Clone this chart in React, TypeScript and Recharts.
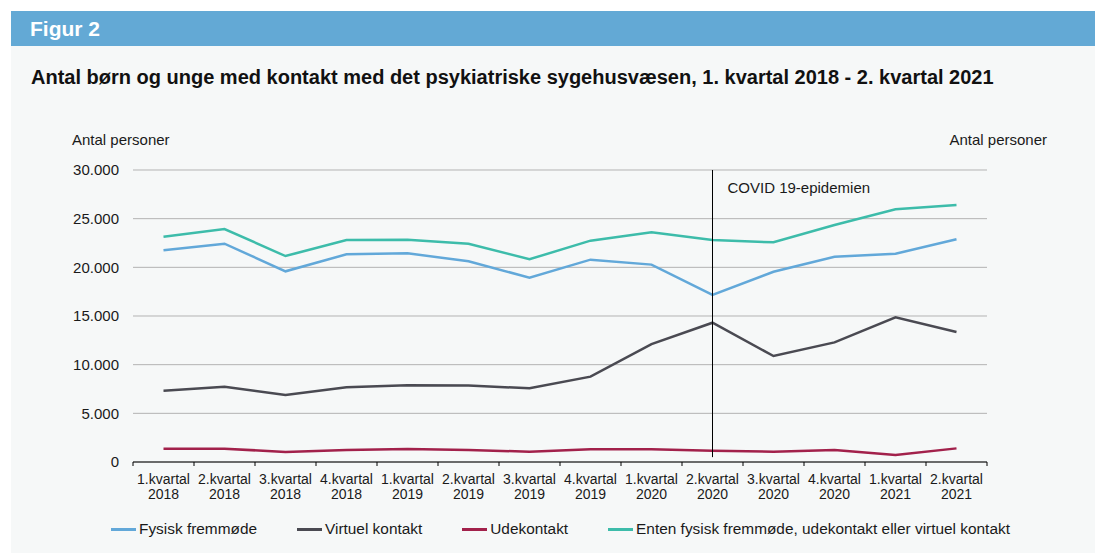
import { LineChart, Line, XAxis, YAxis, CartesianGrid, ReferenceLine } from "recharts";

const QUARTERS = [
  "1.kvartal 2018", "2.kvartal 2018", "3.kvartal 2018", "4.kvartal 2018",
  "1.kvartal 2019", "2.kvartal 2019", "3.kvartal 2019", "4.kvartal 2019",
  "1.kvartal 2020", "2.kvartal 2020", "3.kvartal 2020", "4.kvartal 2020",
  "1.kvartal 2021", "2.kvartal 2021",
];
const FYSISK = [21750, 22430, 19590, 21340, 21440, 20620, 18940, 20790, 20280, 17160, 19550, 21090, 21400, 22880];
const VIRTUEL = [7330, 7740, 6880, 7670, 7880, 7850, 7570, 8770, 12120, 14310, 10890, 12290, 14870, 13360];
const UDE = [1370, 1370, 1030, 1230, 1340, 1230, 1060, 1300, 1300, 1160, 1060, 1230, 720, 1400];
const ENTEN = [23150, 23940, 21160, 22810, 22840, 22430, 20830, 22740, 23600, 22810, 22570, 24350, 25960, 26400];
const Y_TICKS = [0, 5000, 10000, 15000, 20000, 25000, 30000];

const SERIES = [
  { key: "fysisk", name: "Fysisk fremmøde", color: "#62a8d9" },
  { key: "virtuel", name: "Virtuel kontakt", color: "#4a4a52" },
  { key: "ude", name: "Udekontakt", color: "#a2214b" },
  { key: "enten", name: "Enten fysisk fremmøde, udekontakt eller virtuel kontakt", color: "#3dbcaa" },
];

const data = QUARTERS.map((q, i) => ({ q, fysisk: FYSISK[i], virtuel: VIRTUEL[i], ude: UDE[i], enten: ENTEN[i] }));

const FONT = '"Liberation Sans", Arial, Helvetica, sans-serif';
const HALF = 30.5; // half band width, for tick marks between categories
const dk = (n: number) => String(n).replace(/\B(?=(\d{3})+(?!\d))/g, ".");

function QuarterTick({ x, y, payload, index }: any) {
  const [q, yr] = String(payload.value).split(" ");
  return (
    <g>
      <line x1={x - HALF} x2={x - HALF} y1={y} y2={y + 4} stroke="#000" />
      {index === QUARTERS.length - 1 && <line x1={x + HALF} x2={x + HALF} y1={y} y2={y + 4} stroke="#000" />}
      <text x={x} y={y + 22} textAnchor="middle" fontSize={14} fill="#1a1a1a" fontFamily={FONT}>{q}</text>
      <text x={x} y={y + 37} textAnchor="middle" fontSize={14} fill="#1a1a1a" fontFamily={FONT}>{yr}</text>
    </g>
  );
}

function CovidLabel({ viewBox }: any) {
  return (
    <text x={viewBox.x + 15} y={viewBox.y + 23} fontSize={15} fill="#1a1a1a" fontFamily={FONT}>
      COVID 19-epidemien
    </text>
  );
}

export default function App() {
  return (
    <div style={{ position: "absolute", left: 0, top: 0, width: 1095, height: 553, background: "#fff", fontFamily: FONT }}>
      <div style={{ position: "absolute", left: 11, top: 11, width: 1084, height: 35, background: "#63a9d5", color: "#fff", fontWeight: 700, fontSize: 21, lineHeight: "35px", paddingLeft: 19, boxSizing: "border-box" }}>
        Figur 2
      </div>
      <div style={{ position: "absolute", left: 11, top: 46, width: 1084, height: 507, background: "#f6f8f8" }} />
      <div style={{ position: "absolute", left: 31, top: 66, fontWeight: 700, fontSize: 20, color: "#111", whiteSpace: "nowrap" }}>
        Antal børn og unge med kontakt med det psykiatriske sygehusvæsen, 1. kvartal 2018 - 2. kvartal 2021
      </div>
      <div style={{ position: "absolute", left: 72, top: 131, fontSize: 15, color: "#1a1a1a" }}>Antal personer</div>
      <div style={{ position: "absolute", right: 48, top: 131, fontSize: 15, color: "#1a1a1a" }}>Antal personer</div>

      <div style={{ position: "absolute", left: 0, top: 0 }}>
        <LineChart width={1095} height={553} data={data} margin={{ top: 170, right: 48, bottom: 51, left: 0 }}>
          <CartesianGrid vertical={false} stroke="#b3b3b3" yAxisId="left" />
          <XAxis dataKey="q" scale="band" axisLine={{ stroke: "#000" }} tickLine={false} tickSize={0} tickMargin={0} height={40} interval={0} tick={<QuarterTick />} />
          <YAxis yAxisId="left" domain={[0, 30000]} ticks={Y_TICKS} tickFormatter={dk} width={133} axisLine={false} tickLine={false} tickSize={6} tickMargin={8} tick={{ fontSize: 15, fill: "#1a1a1a", fontFamily: FONT }} />
          <YAxis yAxisId="right" orientation="right" domain={[0, 30000]} ticks={Y_TICKS} tickFormatter={dk} width={60} axisLine={false} tickLine={false} tickSize={6} tickMargin={7} tick={{ fontSize: 15, fill: "#1a1a1a", fontFamily: FONT, textAnchor: "start" }} />
          {SERIES.map((s) => (
            <Line key={s.key} yAxisId="left" type="linear" dataKey={s.key} name={s.name} stroke={s.color} strokeWidth={2.5} dot={false} isAnimationActive={false} />
          ))}
          <ReferenceLine yAxisId="left" segment={[{ x: "2.kvartal 2020", y: 500 }, { x: "2.kvartal 2020", y: 30000 }]} stroke="#000" strokeWidth={1} label={<CovidLabel />} />
        </LineChart>
      </div>

      <div style={{ position: "absolute", left: 111, top: 519, display: "flex", gap: 40, fontSize: 15.4, color: "#1a1a1a", whiteSpace: "nowrap" }}>
        {SERIES.map((s) => (
          <div key={s.key} style={{ display: "flex", alignItems: "center", height: 20 }}>
            <span style={{ display: "inline-block", width: 25, height: 3, background: s.color, marginRight: 3 }} />
            <span>{s.name}</span>
          </div>
        ))}
      </div>
    </div>
  );
}
